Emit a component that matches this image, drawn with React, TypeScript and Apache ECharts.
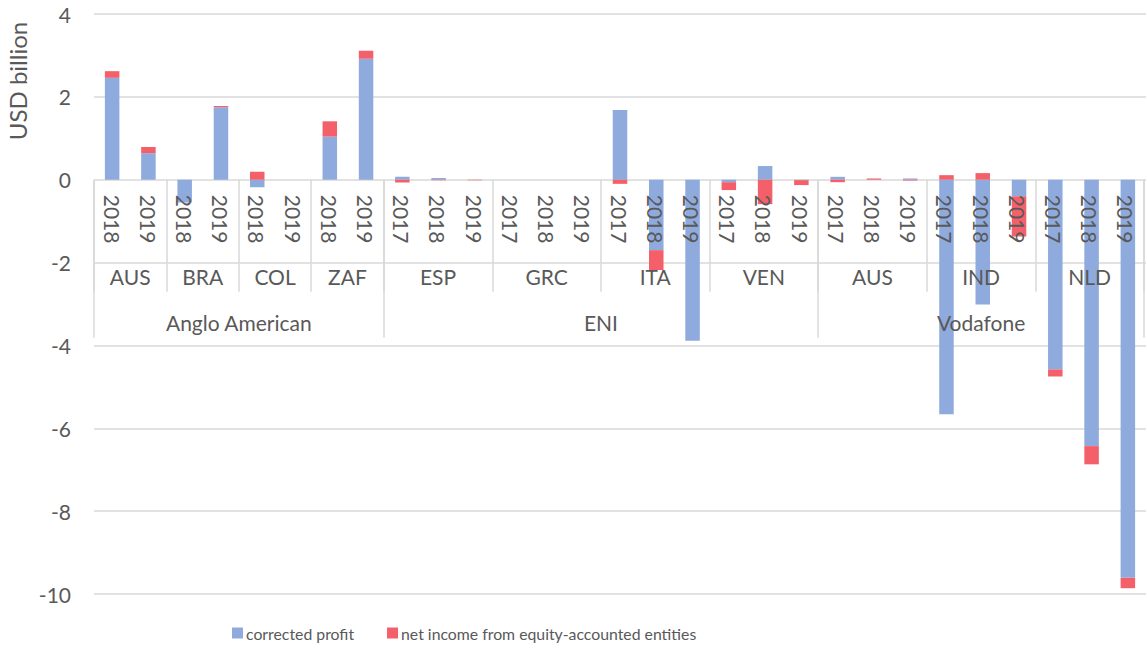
import React, { useEffect, useRef } from 'react';
import * as echarts from 'echarts';

// Year categories (lowest level of the category axis)
const years = [
  '2018', '2019', '2018', '2019', '2018', '2019', '2018', '2019',
  '2017', '2018', '2019', '2017', '2018', '2019', '2017', '2018', '2019', '2017', '2018', '2019',
  '2017', '2018', '2019', '2017', '2018', '2019', '2017', '2018', '2019',
];
// Country level and how many years each country spans
const countries = ['AUS', 'BRA', 'COL', 'ZAF', 'ESP', 'GRC', 'ITA', 'VEN', 'AUS', 'IND', 'NLD'];
const countrySpans = [2, 2, 2, 2, 3, 3, 3, 3, 3, 3, 3];
// Company level and how many countries each company spans
const companies = ['Anglo American', 'ENI', 'Vodafone'];
const companyCountryCounts = [4, 4, 3];

const correctedProfit = [
  2.46, 0.64, -0.55, 1.75, -0.18, 0, 1.04, 2.92,
  0.07, 0.04, 0, 0, 0, 0, 1.68, -1.7, -3.89, -0.06, 0.33, -0.01,
  0.07, 0, 0.03, -5.66, -3.01, -0.4, -4.58, -6.43, -9.61,
];
const netIncomeEquity = [
  0.16, 0.15, 0, 0.03, 0.19, 0, 0.37, 0.19,
  -0.07, -0.01, -0.01, 0, 0, 0, -0.1, -0.48, 0, -0.19, -0.59, -0.12,
  -0.06, 0.03, -0.02, 0.11, 0.16, -0.97, -0.17, -0.44, -0.25,
];

const seriesNames = ['corrected profit', 'net income from equity-accounted entities'];
const yTicks = { min: -10, max: 4, step: 2 };

const TEXT = '#595959';
const GRID = '#d9d9d9';
const FONT = 'Lato';

export default function App() {
  const ref = useRef<HTMLDivElement>(null);

  useEffect(() => {
    if (!ref.current) return;
    const chart = echarts.init(ref.current, null, { renderer: 'svg' });

    const plot = { left: 94, right: 1, top: 14, bottom: 63, width: 1147, height: 657 };
    const plotHeight = plot.height - plot.top - plot.bottom;
    // pixel row of the value 0 on the value axis (category labels hang from it)
    const zeroY = plot.top + (yTicks.max / (yTicks.max - yTicks.min)) * plotHeight;

    // Half-slot axes (2 slots per year category, boundaryGap false) to place group labels/separators
    const nSlots = years.length * 2 + 1;
    const countryLabels: string[] = new Array(nSlots).fill('');
    const countryBounds = new Set<number>();
    let start = 0;
    countries.forEach((c, i) => {
      countryBounds.add(start * 2);
      countryLabels[start * 2 + countrySpans[i]] = c;
      start += countrySpans[i];
    });
    countryBounds.add(start * 2);

    const companyLabels: string[] = new Array(nSlots).fill('');
    const companyBounds = new Set<number>();
    let cStart = 0;
    let countryIdx = 0;
    companies.forEach((co, i) => {
      let span = 0;
      for (let k = 0; k < companyCountryCounts[i]; k++) {
        span += countrySpans[countryIdx++];
      }
      companyBounds.add(cStart * 2);
      companyLabels[cStart * 2 + span] = co;
      cStart += span;
    });
    companyBounds.add(cStart * 2);

    const labelStyle = { fontSize: 21, color: TEXT, fontFamily: FONT };

    chart.setOption({
      animation: false,
      textStyle: { fontFamily: FONT },
      grid: [
        { left: plot.left, right: plot.right, top: plot.top, bottom: plot.bottom, containLabel: false },
        { left: plot.left, right: plot.right, top: zeroY, height: 170, containLabel: false },
      ],
      legend: {
        left: 227,
        top: 620,
        itemWidth: 11,
        itemHeight: 11,
        itemGap: 33,
        icon: 'rect',
        data: seriesNames,
        textStyle: { fontSize: 15.8, color: TEXT, fontFamily: FONT, padding: [0, 0, 0, -2] },
      },
      graphic: [
        {
          type: 'text',
          x: 17,
          y: 81,
          rotation: Math.PI / 2,
          style: {
            text: 'USD billion',
            fill: TEXT,
            font: `24px ${FONT}`,
            textAlign: 'center',
            textVerticalAlign: 'middle',
          },
        },
      ],
      xAxis: [
        {
          type: 'category',
          gridIndex: 0,
          data: years,
          show: false,
        },
        {
          type: 'category',
          gridIndex: 1,
          position: 'top',
          data: years,
          z: 5,
          axisLine: { show: false, onZero: false },
          axisTick: { show: false },
          axisLabel: { ...labelStyle, inside: true, rotate: 90, margin: 15, interval: 0 },
          splitLine: { show: false },
        },
        {
          type: 'category',
          gridIndex: 1,
          position: 'top',
          data: countryLabels,
          boundaryGap: false,
          z: 5,
          axisLine: { show: false, onZero: false },
          axisTick: {
            show: true,
            inside: true,
            length: 112,
            interval: (i: number) => countryBounds.has(i),
            lineStyle: { color: GRID, width: 1.5 },
          },
          axisLabel: { ...labelStyle, inside: true, margin: 86, interval: 0 },
          splitLine: { show: false },
        },
        {
          type: 'category',
          gridIndex: 1,
          position: 'top',
          data: companyLabels,
          boundaryGap: false,
          z: 5,
          axisLine: { show: false, onZero: false },
          axisTick: {
            show: true,
            inside: true,
            length: 158,
            interval: (i: number) => companyBounds.has(i),
            lineStyle: { color: GRID, width: 1.5 },
          },
          axisLabel: { ...labelStyle, inside: true, margin: 132, interval: 0 },
          splitLine: { show: false },
        },
      ],
      yAxis: [
        {
          type: 'value',
          gridIndex: 0,
          min: yTicks.min,
          max: yTicks.max,
          interval: yTicks.step,
          axisLine: { show: false },
          axisTick: { show: false },
          axisLabel: { ...labelStyle, margin: 23 },
          splitLine: { lineStyle: { color: GRID, width: 1.5 } },
        },
        {
          type: 'value',
          gridIndex: 1,
          show: false,
          splitLine: { show: false },
        },
      ],
      series: [
        {
          name: seriesNames[0],
          type: 'bar',
          stack: 'total',
          xAxisIndex: 0,
          yAxisIndex: 0,
          barWidth: '40%',
          itemStyle: { color: '#8faadc' },
          data: correctedProfit,
        },
        {
          name: seriesNames[1],
          type: 'bar',
          stack: 'total',
          xAxisIndex: 0,
          yAxisIndex: 0,
          barWidth: '40%',
          itemStyle: { color: '#f4606a' },
          data: netIncomeEquity,
        },
      ],
    });

    return () => chart.dispose();
  }, []);

  return (
    <div
      ref={ref}
      style={{ position: 'absolute', left: 0, top: 0, width: 1147, height: 657 }}
    />
  );
}
